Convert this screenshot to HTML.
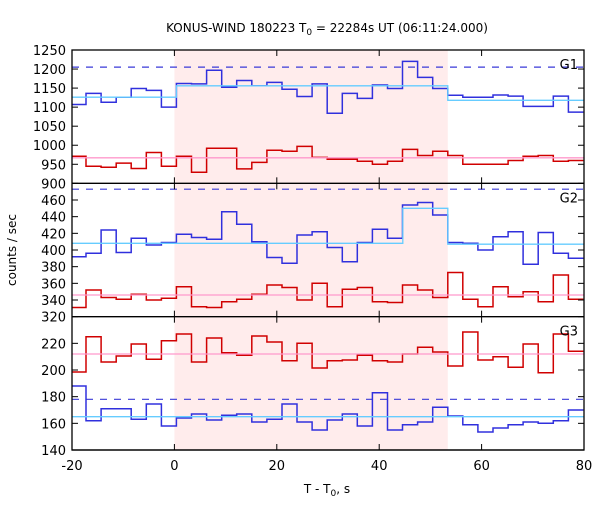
<!DOCTYPE html>
<html><head><meta charset="utf-8"><style>
body{margin:0;background:#fff}
svg text{font-family:"DejaVu Sans","Liberation Sans",sans-serif;font-size:13px;fill:#000}
</style></head><body>
<svg id="c" width="600" height="500" viewBox="0 0 600 500" xmlns="http://www.w3.org/2000/svg">
<text x="327" y="32" text-anchor="middle" style="font-size:12px">KONUS-WIND 180223 T<tspan font-size="9" dy="3">0</tspan><tspan dy="-3"> = 22284s UT (06:11:24.000)</tspan></text>
<text transform="translate(16,250) rotate(-90)" text-anchor="middle" style="font-size:12px">counts / sec</text>
<text x="327" y="493" text-anchor="middle" style="font-size:12px">T - T<tspan font-size="9" dy="3">0</tspan><tspan dy="-3">, s</tspan></text>
</svg>
<script>
const binStart = -7, binCount = 34, binT0 = 0.4, binW = 2.944;
const xTicks = [-20, 0, 20, 40, 60, 80];
const shadeRange = [0, 53.4];
const g1Blue = [1107,1136,1113,1126,1149,1144,1100,1162,1161,1197,1152,1170,1156,1165,1147,1128,1161,1084,1136,1123,1158,1149,1220,1178,1149,1131,1126,1126,1132,1129,1102,1102,1129,1087];
const g1Red = [971,945,942,953,939,981,945,971,929,992,992,938,955,987,984,997,968,963,963,958,950,958,989,973,984,973,950,950,950,960,971,973,958,960];
const g2Blue = [392,396,424,397,414,406,409,419,415,413,446,431,410,391,384,418,422,403,386,409,425,414,454,457,442,409,408,400,416,422,383,421,396,390];
const g2Red = [331,352,343,341,347,340,342,356,332,331,338,341,347,358,355,340,360,332,353,355,338,337,358,352,343,373,341,332,356,344,350,338,370,341];
const g3Red = [198.5,225,206,210.5,219.5,208,222,227,206,224,213,211,225.5,221,207,220,201.5,207,207.5,211,207,206,212,217,213.5,203,228.5,207.5,210,202,219.5,198,227,214];
const g3Blue = [188,162,171,171,163,174.5,158,164,167,162.5,166,167,161,163,174.5,161,155,162.5,167,158,183,155,159,161,172,165.5,159,153.5,156.5,159,161,160,162,170];
const g1BlueBg = [[-20,0.4,1126],[0.4,53.4,1156],[53.4,80,1118]];
const g1RedBg = [[-20,80,967]];
const g2BlueBg = [[-20,44.6,408],[44.6,53.4,450],[53.4,80,407]];
const g2RedBg = [[-20,80,346]];
const g3BlueBg = [[-20,80,165]];
const g3RedBg = [[-20,80,212]];
const g1Dash = 1205, g2Dash = 473, g3Dash = 178;
const g1Ticks = [900,950,1000,1050,1100,1150,1200,1250];
const g2Ticks = [320,340,360,380,400,420,440,460];
const g3Ticks = [140,160,180,200,220];

const NS="http://www.w3.org/2000/svg", svg=document.getElementById('c');
const L=72,R=584;
const X=t=>L+(t+20)/100*(R-L);
function el(tag,attrs,parent){const e=document.createElementNS(NS,tag);for(const k in attrs)e.setAttribute(k,attrs[k]);(parent||svg).appendChild(e);return e;}
const shade=el('rect',{x:X(shadeRange[0]),y:50,width:X(shadeRange[1])-X(shadeRange[0]),height:400,fill:'#ffecec'});


const panels=[
 {name:'g1',top:50,bot:183.33,min:900,max:1250,blue:g1Blue,red:g1Red,bb:g1BlueBg,rb:g1RedBg,dash:g1Dash,ticks:g1Ticks,label:'G1',labels:g1Ticks},
 {name:'g2',top:183.33,bot:316.67,min:320,max:480,blue:g2Blue,red:g2Red,bb:g2BlueBg,rb:g2RedBg,dash:g2Dash,ticks:g2Ticks,label:'G2',labels:g2Ticks},
 {name:'g3',top:316.67,bot:450,min:140,max:240,blue:g3Blue,red:g3Red,bb:g3BlueBg,rb:g3RedBg,dash:g3Dash,ticks:g3Ticks,label:'G3',labels:g3Ticks}
];
panels.forEach(p=>{
 const Y=v=>p.bot-(v-p.min)/(p.max-p.min)*(p.bot-p.top);
 const g=el('g',{});
 
 
 const dl=el('line',{x1:L,x2:R,y1:Y(p.dash),y2:Y(p.dash),stroke:'#3a3ad8','stroke-width':1.2,'stroke-dasharray':'7,7'},g);
 
 
 function step(vals,color,nm){
  let d='';
  for(let i=0;i<binCount;i++){
   const a=Math.max(-20,binT0+(binStart+i)*binW), b=Math.min(80,binT0+(binStart+i+1)*binW);
   const y=Y(vals[i]).toFixed(1);
   d+=(i?'L':'M')+X(a).toFixed(1)+','+y+'L'+X(b).toFixed(1)+','+y;
  }
  const pth=el('path',{d:d,fill:'none',stroke:color,'stroke-width':1.5},g);
  
  
 }
 function bg(segs,color,nm){
  let d='';
  segs.forEach((s,i)=>{const y=Y(s[2]).toFixed(1);d+=(i?'L':'M')+X(s[0]).toFixed(1)+','+y+'L'+X(s[1]).toFixed(1)+','+y;});
  const pth=el('path',{d:d,fill:'none',stroke:color,'stroke-width':1.3},g);
  
  
 }
 step(p.blue,'#3030dd',p.name+'-blue-series');
 step(p.red,'#d00000',p.name+'-red-series');
 bg(p.bb,'#66ccff',p.name+'-blue-background');
 bg(p.rb,'#ff99cc',p.name+'-red-background');
 p.ticks.forEach(v=>{
  el('line',{x1:L,x2:L+6,y1:Y(v),y2:Y(v),stroke:'#000'},g);
  el('line',{x1:R-6,x2:R,y1:Y(v),y2:Y(v),stroke:'#000'},g);
 });
 p.labels.forEach(v=>{
  const t=el('text',{x:L-6,y:Y(v)+5,'text-anchor':'end'},g);t.textContent=v;
  
  
 });
 xTicks.forEach(t=>{
  el('line',{x1:X(t),x2:X(t),y1:p.top,y2:p.top+6,stroke:'#000'},g);
  el('line',{x1:X(t),x2:X(t),y1:p.bot-6,y2:p.bot,stroke:'#000'},g);
 });
 const lb=el('text',{x:578,y:p.top+19,'text-anchor':'end'},g);lb.textContent=p.label;
 
 
 el('line',{x1:L,x2:R,y1:p.bot,y2:p.bot,stroke:'#000','stroke-width':1.3},g);
});
const fr=el('rect',{x:L,y:50,width:R-L,height:400,fill:'none',stroke:'#000','stroke-width':1.3});


xTicks.forEach(t=>{
 const tx=el('text',{x:X(t),y:470,'text-anchor':'middle'});tx.textContent=t;
 
 
});
</script>
</body></html>
